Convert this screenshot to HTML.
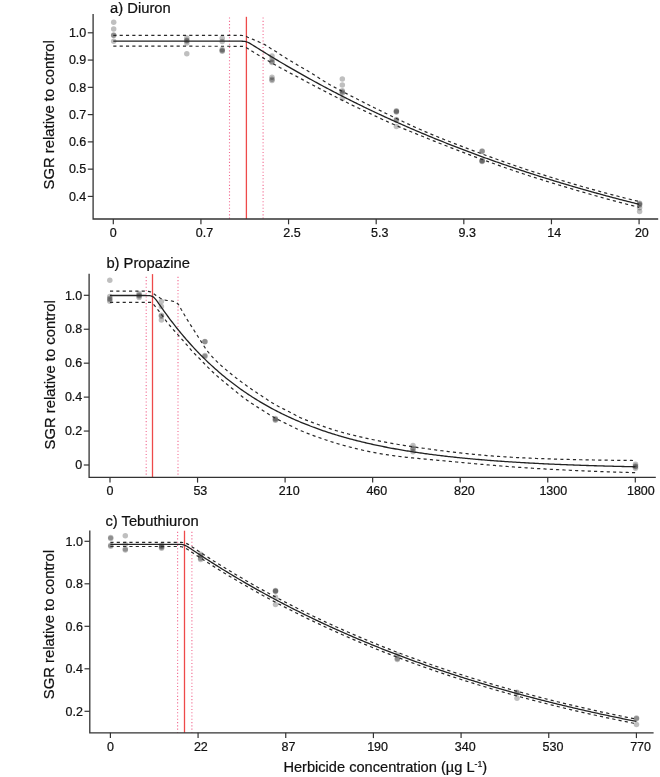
<!DOCTYPE html>
<html><head><meta charset="utf-8"><style>
html,body{margin:0;padding:0;background:#fff;}
svg{display:block;font-family:"Liberation Sans", sans-serif;will-change:transform;} text{stroke:#111;stroke-width:0.22px;}
</style></head><body>
<svg width="660" height="777" viewBox="0 0 660 777" fill="#111">
<rect width="660" height="777" fill="#fff"/>
<path d="M246.4,16.8V219.0" stroke="#ee4a4a" stroke-width="1.3"/>
<path d="M229.5,17.5V219.0" stroke="#f0507e" stroke-opacity="0.85" stroke-width="1.1" stroke-dasharray="1.1 2.18"/>
<path d="M263.1,17.5V219.0" stroke="#f0507e" stroke-opacity="0.85" stroke-width="1.1" stroke-dasharray="1.1 2.18"/>
<circle cx="113.7" cy="22.2" r="2.75" fill="#000" fill-opacity="0.25"/>
<circle cx="113.7" cy="29.1" r="2.75" fill="#000" fill-opacity="0.25"/>
<circle cx="113.7" cy="35.1" r="2.75" fill="#000" fill-opacity="0.25"/>
<circle cx="113.7" cy="35.5" r="2.75" fill="#000" fill-opacity="0.25"/>
<circle cx="113.7" cy="41.3" r="2.75" fill="#000" fill-opacity="0.25"/>
<circle cx="186.8" cy="38.0" r="2.75" fill="#000" fill-opacity="0.25"/>
<circle cx="186.8" cy="40.3" r="2.75" fill="#000" fill-opacity="0.25"/>
<circle cx="186.8" cy="41.0" r="2.75" fill="#000" fill-opacity="0.25"/>
<circle cx="186.8" cy="43.0" r="2.75" fill="#000" fill-opacity="0.25"/>
<circle cx="186.8" cy="53.7" r="2.75" fill="#000" fill-opacity="0.25"/>
<circle cx="222.2" cy="38.3" r="2.75" fill="#000" fill-opacity="0.25"/>
<circle cx="222.2" cy="41.5" r="2.75" fill="#000" fill-opacity="0.25"/>
<circle cx="222.2" cy="49.6" r="2.75" fill="#000" fill-opacity="0.25"/>
<circle cx="222.2" cy="50.6" r="2.75" fill="#000" fill-opacity="0.25"/>
<circle cx="222.2" cy="51.2" r="2.75" fill="#000" fill-opacity="0.25"/>
<circle cx="272.0" cy="56.0" r="2.75" fill="#000" fill-opacity="0.25"/>
<circle cx="272.0" cy="59.3" r="2.75" fill="#000" fill-opacity="0.25"/>
<circle cx="272.0" cy="61.6" r="2.75" fill="#000" fill-opacity="0.25"/>
<circle cx="272.0" cy="62.5" r="2.75" fill="#000" fill-opacity="0.25"/>
<circle cx="272.0" cy="77.3" r="2.75" fill="#000" fill-opacity="0.25"/>
<circle cx="272.0" cy="79.3" r="2.75" fill="#000" fill-opacity="0.25"/>
<circle cx="272.0" cy="80.4" r="2.75" fill="#000" fill-opacity="0.25"/>
<circle cx="342.3" cy="79.1" r="2.75" fill="#000" fill-opacity="0.25"/>
<circle cx="342.3" cy="85" r="2.75" fill="#000" fill-opacity="0.25"/>
<circle cx="342.3" cy="90.7" r="2.75" fill="#000" fill-opacity="0.25"/>
<circle cx="342.3" cy="92.0" r="2.75" fill="#000" fill-opacity="0.25"/>
<circle cx="342.3" cy="93.2" r="2.75" fill="#000" fill-opacity="0.25"/>
<circle cx="342.3" cy="98.6" r="2.75" fill="#000" fill-opacity="0.25"/>
<circle cx="396.4" cy="110.8" r="2.75" fill="#000" fill-opacity="0.25"/>
<circle cx="396.4" cy="111.4" r="2.75" fill="#000" fill-opacity="0.25"/>
<circle cx="396.4" cy="112.0" r="2.75" fill="#000" fill-opacity="0.25"/>
<circle cx="396.4" cy="119.4" r="2.75" fill="#000" fill-opacity="0.25"/>
<circle cx="396.4" cy="120.2" r="2.75" fill="#000" fill-opacity="0.25"/>
<circle cx="396.4" cy="126.4" r="2.75" fill="#000" fill-opacity="0.25"/>
<circle cx="482.1" cy="151.0" r="2.75" fill="#000" fill-opacity="0.25"/>
<circle cx="482.1" cy="151.4" r="2.75" fill="#000" fill-opacity="0.25"/>
<circle cx="482.1" cy="160.6" r="2.75" fill="#000" fill-opacity="0.25"/>
<circle cx="482.1" cy="161.0" r="2.75" fill="#000" fill-opacity="0.25"/>
<circle cx="482.1" cy="161.6" r="2.75" fill="#000" fill-opacity="0.25"/>
<circle cx="639.6" cy="203.3" r="2.75" fill="#000" fill-opacity="0.25"/>
<circle cx="639.6" cy="204.0" r="2.75" fill="#000" fill-opacity="0.25"/>
<circle cx="639.6" cy="205.0" r="2.75" fill="#000" fill-opacity="0.25"/>
<circle cx="639.6" cy="207.8" r="2.75" fill="#000" fill-opacity="0.25"/>
<circle cx="639.6" cy="211.6" r="2.75" fill="#000" fill-opacity="0.25"/>
<polyline points="113.30,41.17 114.62,41.17 115.94,41.17 117.25,41.17 118.57,41.17 119.89,41.17 121.21,41.17 122.52,41.17 123.84,41.17 125.16,41.17 126.48,41.17 127.80,41.17 129.11,41.17 130.43,41.17 131.75,41.17 133.07,41.17 134.38,41.17 135.70,41.17 137.02,41.17 138.34,41.17 139.66,41.17 140.97,41.17 142.29,41.17 143.61,41.17 144.93,41.17 146.24,41.17 147.56,41.17 148.88,41.17 150.20,41.17 151.52,41.17 152.83,41.17 154.15,41.17 155.47,41.17 156.79,41.17 158.11,41.17 159.42,41.17 160.74,41.17 162.06,41.17 163.38,41.17 164.69,41.17 166.01,41.17 167.33,41.17 168.65,41.17 169.97,41.17 171.28,41.17 172.60,41.17 173.92,41.17 175.24,41.17 176.55,41.17 177.87,41.17 179.19,41.17 180.51,41.17 181.83,41.17 183.14,41.17 184.46,41.17 185.78,41.17 187.10,41.17 188.41,41.17 189.73,41.17 191.05,41.17 192.37,41.17 193.69,41.17 195.00,41.17 196.32,41.17 197.64,41.17 198.96,41.17 200.27,41.17 201.59,41.17 202.91,41.17 204.23,41.17 205.55,41.17 206.86,41.17 208.18,41.17 209.50,41.17 210.82,41.17 212.13,41.17 213.45,41.17 214.77,41.17 216.09,41.17 217.41,41.17 218.72,41.17 220.04,41.17 221.36,41.17 222.68,41.17 223.99,41.17 225.31,41.17 226.63,41.17 227.95,41.17 229.27,41.17 230.58,41.17 231.90,41.17 233.22,41.17 234.54,41.17 235.85,41.17 237.17,41.17 238.49,41.17 239.81,41.18 241.13,41.19 242.44,41.23 243.76,41.31 245.08,41.47 246.40,41.78 247.72,42.26 249.03,42.91 250.35,43.65 251.67,44.45 252.99,45.26 254.30,46.09 255.62,46.92 256.94,47.75 258.26,48.57 259.58,49.40 260.89,50.22 262.21,51.04 263.53,51.85 264.85,52.66 266.16,53.48 267.48,54.28 268.80,55.09 270.12,55.89 271.44,56.69 272.75,57.49 274.07,58.29 275.39,59.08 276.71,59.87 278.02,60.66 279.34,61.44 280.66,62.22 281.98,63.00 283.30,63.78 284.61,64.56 285.93,65.33 287.25,66.10 288.57,66.87 289.88,67.63 291.20,68.40 292.52,69.16 293.84,69.92 295.16,70.67 296.47,71.42 297.79,72.18 299.11,72.92 300.43,73.67 301.74,74.41 303.06,75.16 304.38,75.89 305.70,76.63 307.02,77.37 308.33,78.10 309.65,78.83 310.97,79.55 312.29,80.28 313.60,81.00 314.92,81.72 316.24,82.44 317.56,83.16 318.88,83.87 320.19,84.58 321.51,85.29 322.83,86.00 324.15,86.70 325.46,87.40 326.78,88.10 328.10,88.80 329.42,89.50 330.74,90.19 332.05,90.88 333.37,91.57 334.69,92.26 336.01,92.94 337.33,93.62 338.64,94.30 339.96,94.98 341.28,95.66 342.60,96.33 343.91,97.00 345.23,97.67 346.55,98.34 347.87,99.00 349.19,99.67 350.50,100.33 351.82,100.99 353.14,101.64 354.46,102.30 355.77,102.95 357.09,103.60 358.41,104.25 359.73,104.90 361.05,105.54 362.36,106.18 363.68,106.82 365.00,107.46 366.32,108.10 367.63,108.73 368.95,109.36 370.27,109.99 371.59,110.62 372.91,111.25 374.22,111.87 375.54,112.49 376.86,113.11 378.18,113.73 379.49,114.35 380.81,114.96 382.13,115.57 383.45,116.18 384.77,116.79 386.08,117.40 387.40,118.00 388.72,118.61 390.04,119.21 391.35,119.81 392.67,120.40 393.99,121.00 395.31,121.59 396.63,122.18 397.94,122.77 399.26,123.36 400.58,123.94 401.90,124.53 403.21,125.11 404.53,125.69 405.85,126.27 407.17,126.84 408.49,127.42 409.80,127.99 411.12,128.56 412.44,129.13 413.76,129.70 415.07,130.26 416.39,130.82 417.71,131.39 419.03,131.95 420.35,132.50 421.66,133.06 422.98,133.61 424.30,134.17 425.62,134.72 426.94,135.27 428.25,135.81 429.57,136.36 430.89,136.90 432.21,137.45 433.52,137.99 434.84,138.53 436.16,139.06 437.48,139.60 438.80,140.13 440.11,140.66 441.43,141.19 442.75,141.72 444.07,142.25 445.38,142.77 446.70,143.30 448.02,143.82 449.34,144.34 450.66,144.86 451.97,145.38 453.29,145.89 454.61,146.40 455.93,146.92 457.24,147.43 458.56,147.94 459.88,148.44 461.20,148.95 462.52,149.45 463.83,149.95 465.15,150.46 466.47,150.95 467.79,151.45 469.10,151.95 470.42,152.44 471.74,152.93 473.06,153.43 474.38,153.92 475.69,154.40 477.01,154.89 478.33,155.37 479.65,155.86 480.96,156.34 482.28,156.82 483.60,157.30 484.92,157.78 486.24,158.25 487.55,158.73 488.87,159.20 490.19,159.67 491.51,160.14 492.82,160.61 494.14,161.08 495.46,161.54 496.78,162.00 498.10,162.47 499.41,162.93 500.73,163.39 502.05,163.84 503.37,164.30 504.68,164.76 506.00,165.21 507.32,165.66 508.64,166.11 509.96,166.56 511.27,167.01 512.59,167.46 513.91,167.90 515.23,168.34 516.55,168.79 517.86,169.23 519.18,169.67 520.50,170.10 521.82,170.54 523.13,170.97 524.45,171.41 525.77,171.84 527.09,172.27 528.41,172.70 529.72,173.13 531.04,173.56 532.36,173.98 533.68,174.41 534.99,174.83 536.31,175.25 537.63,175.67 538.95,176.09 540.27,176.51 541.58,176.92 542.90,177.34 544.22,177.75 545.54,178.16 546.85,178.57 548.17,178.98 549.49,179.39 550.81,179.80 552.13,180.20 553.44,180.61 554.76,181.01 556.08,181.41 557.40,181.81 558.71,182.21 560.03,182.61 561.35,183.01 562.67,183.40 563.99,183.80 565.30,184.19 566.62,184.58 567.94,184.97 569.26,185.36 570.57,185.75 571.89,186.13 573.21,186.52 574.53,186.90 575.85,187.29 577.16,187.67 578.48,188.05 579.80,188.43 581.12,188.81 582.43,189.18 583.75,189.56 585.07,189.93 586.39,190.31 587.71,190.68 589.02,191.05 590.34,191.42 591.66,191.79 592.98,192.15 594.29,192.52 595.61,192.89 596.93,193.25 598.25,193.61 599.57,193.97 600.88,194.33 602.20,194.69 603.52,195.05 604.84,195.41 606.16,195.76 607.47,196.12 608.79,196.47 610.11,196.83 611.43,197.18 612.74,197.53 614.06,197.88 615.38,198.22 616.70,198.57 618.02,198.92 619.33,199.26 620.65,199.60 621.97,199.95 623.29,200.29 624.60,200.63 625.92,200.97 627.24,201.31 628.56,201.64 629.88,201.98 631.19,202.31 632.51,202.65 633.83,202.98 635.15,203.31 636.46,203.64 637.78,203.97 639.10,204.30" fill="none" stroke="#222" stroke-width="1.3"/>
<polyline points="113.30,35.40 114.62,35.40 115.94,35.40 117.25,35.40 118.57,35.40 119.89,35.40 121.21,35.40 122.52,35.40 123.84,35.40 125.16,35.40 126.48,35.40 127.80,35.40 129.11,35.40 130.43,35.40 131.75,35.40 133.07,35.40 134.38,35.40 135.70,35.40 137.02,35.40 138.34,35.40 139.66,35.40 140.97,35.40 142.29,35.40 143.61,35.40 144.93,35.40 146.24,35.40 147.56,35.40 148.88,35.40 150.20,35.40 151.52,35.40 152.83,35.40 154.15,35.40 155.47,35.40 156.79,35.40 158.11,35.40 159.42,35.40 160.74,35.40 162.06,35.40 163.38,35.40 164.69,35.40 166.01,35.40 167.33,35.40 168.65,35.40 169.97,35.40 171.28,35.40 172.60,35.40 173.92,35.40 175.24,35.40 176.55,35.40 177.87,35.40 179.19,35.40 180.51,35.40 181.83,35.40 183.14,35.40 184.46,35.40 185.78,35.40 187.10,35.40 188.41,35.40 189.73,35.40 191.05,35.40 192.37,35.40 193.69,35.40 195.00,35.40 196.32,35.40 197.64,35.40 198.96,35.40 200.27,35.40 201.59,35.40 202.91,35.40 204.23,35.40 205.55,35.40 206.86,35.40 208.18,35.40 209.50,35.40 210.82,35.40 212.13,35.40 213.45,35.40 214.77,35.40 216.09,35.40 217.41,35.40 218.72,35.40 220.04,35.40 221.36,35.40 222.68,35.40 223.99,35.40 225.31,35.40 226.63,35.40 227.95,35.40 229.27,35.40 230.58,35.40 231.90,35.40 233.22,35.40 234.54,35.40 235.85,35.40 237.17,35.40 238.49,35.40 239.81,35.40 241.13,35.42 242.44,35.48 243.76,35.58 245.08,35.88 246.40,36.54 247.72,37.27 249.03,37.84 250.35,38.37 251.67,38.87 252.99,39.39 254.30,39.93 255.62,40.49 256.94,41.08 258.26,41.67 259.58,42.26 260.89,42.83 262.21,43.40 263.53,44.00 264.85,44.65 266.16,45.39 267.48,46.25 268.80,47.18 270.12,48.09 271.44,48.92 272.75,49.72 274.07,50.49 275.39,51.28 276.71,52.09 278.02,52.93 279.34,53.79 280.66,54.66 281.98,55.54 283.30,56.41 284.61,57.27 285.93,58.12 287.25,58.94 288.57,59.74 289.88,60.53 291.20,61.31 292.52,62.08 293.84,62.85 295.16,63.61 296.47,64.38 297.79,65.15 299.11,65.93 300.43,66.70 301.74,67.47 303.06,68.23 304.38,69.00 305.70,69.78 307.02,70.56 308.33,71.34 309.65,72.13 310.97,72.94 312.29,73.76 313.60,74.58 314.92,75.41 316.24,76.24 317.56,77.08 318.88,77.91 320.19,78.75 321.51,79.58 322.83,80.40 324.15,81.22 325.46,82.04 326.78,82.84 328.10,83.63 329.42,84.40 330.74,85.16 332.05,85.91 333.37,86.63 334.69,87.35 336.01,88.05 337.33,88.75 338.64,89.45 339.96,90.14 341.28,90.84 342.60,91.53 343.91,92.23 345.23,92.92 346.55,93.61 347.87,94.30 349.19,94.98 350.50,95.67 351.82,96.35 353.14,97.03 354.46,97.70 355.77,98.38 357.09,99.05 358.41,99.72 359.73,100.39 361.05,101.06 362.36,101.72 363.68,102.39 365.00,103.05 366.32,103.72 367.63,104.38 368.95,105.04 370.27,105.70 371.59,106.36 372.91,107.02 374.22,107.67 375.54,108.32 376.86,108.97 378.18,109.62 379.49,110.27 380.81,110.91 382.13,111.56 383.45,112.20 384.77,112.84 386.08,113.48 387.40,114.12 388.72,114.76 390.04,115.40 391.35,116.03 392.67,116.67 393.99,117.30 395.31,117.93 396.63,118.55 397.94,119.18 399.26,119.80 400.58,120.43 401.90,121.05 403.21,121.67 404.53,122.29 405.85,122.91 407.17,123.53 408.49,124.15 409.80,124.76 411.12,125.37 412.44,125.98 413.76,126.59 415.07,127.19 416.39,127.79 417.71,128.38 419.03,128.97 420.35,129.56 421.66,130.14 422.98,130.71 424.30,131.28 425.62,131.85 426.94,132.42 428.25,132.98 429.57,133.54 430.89,134.09 432.21,134.64 433.52,135.19 434.84,135.73 436.16,136.27 437.48,136.81 438.80,137.34 440.11,137.87 441.43,138.40 442.75,138.93 444.07,139.45 445.38,139.98 446.70,140.50 448.02,141.02 449.34,141.54 450.66,142.05 451.97,142.57 453.29,143.08 454.61,143.60 455.93,144.11 457.24,144.62 458.56,145.12 459.88,145.63 461.20,146.13 462.52,146.64 463.83,147.14 465.15,147.64 466.47,148.14 467.79,148.63 469.10,149.13 470.42,149.62 471.74,150.11 473.06,150.60 474.38,151.09 475.69,151.58 477.01,152.07 478.33,152.56 479.65,153.04 480.96,153.52 482.28,154.00 483.60,154.48 484.92,154.96 486.24,155.44 487.55,155.92 488.87,156.39 490.19,156.87 491.51,157.35 492.82,157.82 494.14,158.29 495.46,158.77 496.78,159.24 498.10,159.71 499.41,160.18 500.73,160.65 502.05,161.12 503.37,161.59 504.68,162.06 506.00,162.52 507.32,162.99 508.64,163.45 509.96,163.91 511.27,164.37 512.59,164.83 513.91,165.29 515.23,165.74 516.55,166.19 517.86,166.64 519.18,167.09 520.50,167.54 521.82,167.99 523.13,168.43 524.45,168.87 525.77,169.31 527.09,169.74 528.41,170.18 529.72,170.61 531.04,171.04 532.36,171.46 533.68,171.89 534.99,172.31 536.31,172.73 537.63,173.14 538.95,173.55 540.27,173.96 541.58,174.37 542.90,174.78 544.22,175.19 545.54,175.59 546.85,176.00 548.17,176.40 549.49,176.81 550.81,177.21 552.13,177.61 553.44,178.02 554.76,178.42 556.08,178.82 557.40,179.21 558.71,179.61 560.03,180.01 561.35,180.40 562.67,180.80 563.99,181.19 565.30,181.58 566.62,181.98 567.94,182.37 569.26,182.76 570.57,183.14 571.89,183.53 573.21,183.92 574.53,184.30 575.85,184.69 577.16,185.07 578.48,185.45 579.80,185.83 581.12,186.21 582.43,186.59 583.75,186.96 585.07,187.34 586.39,187.71 587.71,188.09 589.02,188.46 590.34,188.83 591.66,189.20 592.98,189.57 594.29,189.93 595.61,190.30 596.93,190.66 598.25,191.02 599.57,191.38 600.88,191.74 602.20,192.10 603.52,192.46 604.84,192.81 606.16,193.17 607.47,193.52 608.79,193.87 610.11,194.22 611.43,194.57 612.74,194.91 614.06,195.26 615.38,195.60 616.70,195.94 618.02,196.28 619.33,196.62 620.65,196.96 621.97,197.30 623.29,197.63 624.60,197.96 625.92,198.29 627.24,198.62 628.56,198.95 629.88,199.27 631.19,199.60 632.51,199.92 633.83,200.24 635.15,200.56 636.46,200.87 637.78,201.19 639.10,201.50" fill="none" stroke="#2a2a2a" stroke-width="1.2" stroke-dasharray="3.16 3.17"/>
<polyline points="113.30,46.20 114.62,46.20 115.94,46.20 117.25,46.20 118.57,46.20 119.89,46.20 121.21,46.20 122.52,46.20 123.84,46.20 125.16,46.20 126.48,46.20 127.80,46.20 129.11,46.20 130.43,46.20 131.75,46.20 133.07,46.20 134.38,46.20 135.70,46.20 137.02,46.20 138.34,46.20 139.66,46.20 140.97,46.20 142.29,46.20 143.61,46.20 144.93,46.20 146.24,46.20 147.56,46.20 148.88,46.20 150.20,46.20 151.52,46.20 152.83,46.20 154.15,46.20 155.47,46.20 156.79,46.20 158.11,46.20 159.42,46.21 160.74,46.21 162.06,46.21 163.38,46.21 164.69,46.21 166.01,46.21 167.33,46.21 168.65,46.21 169.97,46.21 171.28,46.21 172.60,46.21 173.92,46.21 175.24,46.21 176.55,46.21 177.87,46.21 179.19,46.21 180.51,46.22 181.83,46.22 183.14,46.22 184.46,46.22 185.78,46.22 187.10,46.22 188.41,46.22 189.73,46.22 191.05,46.22 192.37,46.22 193.69,46.23 195.00,46.23 196.32,46.23 197.64,46.23 198.96,46.23 200.27,46.23 201.59,46.23 202.91,46.23 204.23,46.24 205.55,46.24 206.86,46.24 208.18,46.24 209.50,46.24 210.82,46.24 212.13,46.25 213.45,46.25 214.77,46.25 216.09,46.25 217.41,46.25 218.72,46.26 220.04,46.26 221.36,46.26 222.68,46.26 223.99,46.26 225.31,46.27 226.63,46.27 227.95,46.27 229.27,46.27 230.58,46.28 231.90,46.28 233.22,46.28 234.54,46.28 235.85,46.29 237.17,46.29 238.49,46.29 239.81,46.30 241.13,46.30 242.44,46.32 243.76,46.59 245.08,47.01 246.40,47.71 247.72,48.51 249.03,49.30 250.35,50.15 251.67,51.02 252.99,51.87 254.30,52.68 255.62,53.48 256.94,54.27 258.26,55.06 259.58,55.84 260.89,56.61 262.21,57.38 263.53,58.14 264.85,58.90 266.16,59.66 267.48,60.43 268.80,61.19 270.12,61.95 271.44,62.71 272.75,63.47 274.07,64.22 275.39,64.96 276.71,65.71 278.02,66.45 279.34,67.18 280.66,67.92 281.98,68.65 283.30,69.37 284.61,70.09 285.93,70.81 287.25,71.52 288.57,72.22 289.88,72.91 291.20,73.60 292.52,74.29 293.84,74.98 295.16,75.66 296.47,76.35 297.79,77.05 299.11,77.75 300.43,78.45 301.74,79.15 303.06,79.85 304.38,80.56 305.70,81.26 307.02,81.96 308.33,82.66 309.65,83.35 310.97,84.05 312.29,84.75 313.60,85.44 314.92,86.13 316.24,86.83 317.56,87.52 318.88,88.21 320.19,88.90 321.51,89.59 322.83,90.28 324.15,90.96 325.46,91.65 326.78,92.33 328.10,93.01 329.42,93.69 330.74,94.37 332.05,95.04 333.37,95.71 334.69,96.38 336.01,97.04 337.33,97.71 338.64,98.37 339.96,99.03 341.28,99.69 342.60,100.35 343.91,101.01 345.23,101.67 346.55,102.33 347.87,102.99 349.19,103.65 350.50,104.30 351.82,104.95 353.14,105.59 354.46,106.22 355.77,106.84 357.09,107.46 358.41,108.06 359.73,108.67 361.05,109.27 362.36,109.87 363.68,110.48 365.00,111.09 366.32,111.72 367.63,112.34 368.95,112.97 370.27,113.61 371.59,114.25 372.91,114.88 374.22,115.52 375.54,116.15 376.86,116.78 378.18,117.41 379.49,118.03 380.81,118.65 382.13,119.25 383.45,119.85 384.77,120.45 386.08,121.05 387.40,121.64 388.72,122.23 390.04,122.82 391.35,123.40 392.67,123.98 393.99,124.56 395.31,125.14 396.63,125.71 397.94,126.28 399.26,126.85 400.58,127.42 401.90,127.98 403.21,128.54 404.53,129.09 405.85,129.65 407.17,130.19 408.49,130.74 409.80,131.28 411.12,131.81 412.44,132.34 413.76,132.87 415.07,133.39 416.39,133.92 417.71,134.44 419.03,134.97 420.35,135.49 421.66,136.02 422.98,136.55 424.30,137.08 425.62,137.62 426.94,138.16 428.25,138.70 429.57,139.24 430.89,139.78 432.21,140.32 433.52,140.85 434.84,141.38 436.16,141.90 437.48,142.43 438.80,142.95 440.11,143.46 441.43,143.98 442.75,144.50 444.07,145.02 445.38,145.53 446.70,146.05 448.02,146.56 449.34,147.07 450.66,147.58 451.97,148.10 453.29,148.61 454.61,149.11 455.93,149.62 457.24,150.13 458.56,150.63 459.88,151.14 461.20,151.64 462.52,152.14 463.83,152.65 465.15,153.15 466.47,153.64 467.79,154.14 469.10,154.64 470.42,155.13 471.74,155.62 473.06,156.12 474.38,156.61 475.69,157.09 477.01,157.58 478.33,158.07 479.65,158.55 480.96,159.03 482.28,159.52 483.60,160.00 484.92,160.47 486.24,160.95 487.55,161.42 488.87,161.90 490.19,162.37 491.51,162.84 492.82,163.31 494.14,163.78 495.46,164.25 496.78,164.72 498.10,165.18 499.41,165.65 500.73,166.11 502.05,166.58 503.37,167.04 504.68,167.50 506.00,167.96 507.32,168.42 508.64,168.87 509.96,169.33 511.27,169.78 512.59,170.24 513.91,170.69 515.23,171.14 516.55,171.58 517.86,172.03 519.18,172.47 520.50,172.91 521.82,173.35 523.13,173.79 524.45,174.23 525.77,174.66 527.09,175.09 528.41,175.52 529.72,175.95 531.04,176.37 532.36,176.79 533.68,177.21 534.99,177.63 536.31,178.05 537.63,178.46 538.95,178.87 540.27,179.28 541.58,179.69 542.90,180.10 544.22,180.51 545.54,180.92 546.85,181.33 548.17,181.74 549.49,182.14 550.81,182.55 552.13,182.95 553.44,183.36 554.76,183.76 556.08,184.16 557.40,184.56 558.71,184.96 560.03,185.36 561.35,185.76 562.67,186.16 563.99,186.56 565.30,186.95 566.62,187.35 567.94,187.74 569.26,188.13 570.57,188.53 571.89,188.92 573.21,189.31 574.53,189.70 575.85,190.09 577.16,190.47 578.48,190.86 579.80,191.24 581.12,191.63 582.43,192.01 583.75,192.39 585.07,192.77 586.39,193.15 587.71,193.53 589.02,193.91 590.34,194.29 591.66,194.66 592.98,195.04 594.29,195.41 595.61,195.78 596.93,196.15 598.25,196.52 599.57,196.89 600.88,197.26 602.20,197.62 603.52,197.98 604.84,198.35 606.16,198.71 607.47,199.07 608.79,199.43 610.11,199.79 611.43,200.14 612.74,200.50 614.06,200.85 615.38,201.20 616.70,201.56 618.02,201.91 619.33,202.25 620.65,202.60 621.97,202.95 623.29,203.29 624.60,203.63 625.92,203.97 627.24,204.31 628.56,204.65 629.88,204.99 631.19,205.32 632.51,205.66 633.83,205.99 635.15,206.32 636.46,206.65 637.78,206.97 639.10,207.30" fill="none" stroke="#2a2a2a" stroke-width="1.2" stroke-dasharray="3.16 3.17"/>
<path d="M93.1,14.1V219.0H658.2" fill="none" stroke="#333" stroke-width="1.3"/>
<path d="M87.80,32.80H93.1" stroke="#333" stroke-width="1.2"/>
<text x="86.30" y="37.05" text-anchor="end" font-size="12.5">1.0</text>
<path d="M87.80,60.07H93.1" stroke="#333" stroke-width="1.2"/>
<text x="86.30" y="64.32" text-anchor="end" font-size="12.5">0.9</text>
<path d="M87.80,87.34H93.1" stroke="#333" stroke-width="1.2"/>
<text x="86.30" y="91.59" text-anchor="end" font-size="12.5">0.8</text>
<path d="M87.80,114.61H93.1" stroke="#333" stroke-width="1.2"/>
<text x="86.30" y="118.86" text-anchor="end" font-size="12.5">0.7</text>
<path d="M87.80,141.88H93.1" stroke="#333" stroke-width="1.2"/>
<text x="86.30" y="146.13" text-anchor="end" font-size="12.5">0.6</text>
<path d="M87.80,169.15H93.1" stroke="#333" stroke-width="1.2"/>
<text x="86.30" y="173.40" text-anchor="end" font-size="12.5">0.5</text>
<path d="M87.80,196.42H93.1" stroke="#333" stroke-width="1.2"/>
<text x="86.30" y="200.67" text-anchor="end" font-size="12.5">0.4</text>
<path d="M113.30,219.0V224.30" stroke="#333" stroke-width="1.2"/>
<text x="109.82" y="237.00" font-size="12.5">0</text>
<path d="M200.93,219.0V224.30" stroke="#333" stroke-width="1.2"/>
<text x="195.72" y="237.00" font-size="12.5">0.7</text>
<path d="M288.56,219.0V224.30" stroke="#333" stroke-width="1.2"/>
<text x="283.35" y="237.00" font-size="12.5">2.5</text>
<path d="M376.19,219.0V224.30" stroke="#333" stroke-width="1.2"/>
<text x="370.98" y="237.00" font-size="12.5">5.3</text>
<path d="M463.82,219.0V224.30" stroke="#333" stroke-width="1.2"/>
<text x="458.61" y="237.00" font-size="12.5">9.3</text>
<path d="M551.45,219.0V224.30" stroke="#333" stroke-width="1.2"/>
<text x="547.28" y="237.00" font-size="12.5">14</text>
<path d="M639.08,219.0V224.30" stroke="#333" stroke-width="1.2"/>
<text x="634.91" y="237.00" font-size="12.5">20</text>
<text x="110.10" y="12.70" font-size="14.75">a) Diuron</text>
<text transform="translate(53.70,40.10) rotate(-90)" text-anchor="end" font-size="14.85">SGR relative to control</text>
<path d="M152.5,274.1V477.3" stroke="#ee4a4a" stroke-width="1.3"/>
<path d="M146.2,276.8V477.3" stroke="#f0507e" stroke-opacity="0.85" stroke-width="1.1" stroke-dasharray="1.1 2.18"/>
<path d="M178.0,276.8V477.3" stroke="#f0507e" stroke-opacity="0.85" stroke-width="1.1" stroke-dasharray="1.1 2.18"/>
<circle cx="109.8" cy="280.3" r="2.75" fill="#000" fill-opacity="0.25"/>
<circle cx="109.8" cy="296.5" r="2.75" fill="#000" fill-opacity="0.25"/>
<circle cx="109.8" cy="298.5" r="2.75" fill="#000" fill-opacity="0.25"/>
<circle cx="109.8" cy="299.5" r="2.75" fill="#000" fill-opacity="0.25"/>
<circle cx="109.8" cy="301.2" r="2.75" fill="#000" fill-opacity="0.25"/>
<circle cx="139.1" cy="293.5" r="2.75" fill="#000" fill-opacity="0.25"/>
<circle cx="139.1" cy="295.0" r="2.75" fill="#000" fill-opacity="0.25"/>
<circle cx="139.1" cy="296.0" r="2.75" fill="#000" fill-opacity="0.25"/>
<circle cx="139.1" cy="297.5" r="2.75" fill="#000" fill-opacity="0.25"/>
<circle cx="161.4" cy="301.4" r="2.75" fill="#000" fill-opacity="0.25"/>
<circle cx="161.4" cy="306.4" r="2.75" fill="#000" fill-opacity="0.25"/>
<circle cx="161.4" cy="315.3" r="2.75" fill="#000" fill-opacity="0.25"/>
<circle cx="161.4" cy="316.3" r="2.75" fill="#000" fill-opacity="0.25"/>
<circle cx="161.4" cy="320" r="2.75" fill="#000" fill-opacity="0.25"/>
<circle cx="204.9" cy="341.6" r="2.75" fill="#000" fill-opacity="0.25"/>
<circle cx="204.9" cy="341.8" r="2.75" fill="#000" fill-opacity="0.25"/>
<circle cx="204.9" cy="355.6" r="2.75" fill="#000" fill-opacity="0.25"/>
<circle cx="204.9" cy="356.4" r="2.75" fill="#000" fill-opacity="0.25"/>
<circle cx="275.4" cy="418.6" r="2.75" fill="#000" fill-opacity="0.25"/>
<circle cx="275.4" cy="419.4" r="2.75" fill="#000" fill-opacity="0.25"/>
<circle cx="275.4" cy="420.2" r="2.75" fill="#000" fill-opacity="0.25"/>
<circle cx="413.0" cy="445.5" r="2.75" fill="#000" fill-opacity="0.25"/>
<circle cx="413.0" cy="448.3" r="2.75" fill="#000" fill-opacity="0.25"/>
<circle cx="413.0" cy="449.2" r="2.75" fill="#000" fill-opacity="0.25"/>
<circle cx="413.0" cy="451.8" r="2.75" fill="#000" fill-opacity="0.25"/>
<circle cx="635.5" cy="464.3" r="2.75" fill="#000" fill-opacity="0.25"/>
<circle cx="635.5" cy="466.0" r="2.75" fill="#000" fill-opacity="0.25"/>
<circle cx="635.5" cy="466.8" r="2.75" fill="#000" fill-opacity="0.25"/>
<circle cx="635.5" cy="468.3" r="2.75" fill="#000" fill-opacity="0.25"/>
<polyline points="110.00,295.50 111.32,295.50 112.63,295.50 113.95,295.50 115.27,295.50 116.59,295.50 117.90,295.50 119.22,295.50 120.54,295.50 121.85,295.50 123.17,295.50 124.49,295.50 125.80,295.50 127.12,295.50 128.44,295.50 129.76,295.50 131.07,295.50 132.39,295.50 133.71,295.50 135.02,295.50 136.34,295.50 137.66,295.50 138.97,295.50 140.29,295.50 141.61,295.50 142.93,295.50 144.24,295.51 145.56,295.51 146.88,295.53 148.19,295.57 149.51,295.66 150.83,295.87 152.15,296.31 153.46,297.11 154.78,298.34 156.10,299.90 157.41,301.67 158.73,303.53 160.05,305.42 161.36,307.31 162.68,309.18 164.00,311.04 165.32,312.88 166.63,314.70 167.95,316.49 169.27,318.27 170.58,320.02 171.90,321.75 173.22,323.47 174.54,325.16 175.85,326.84 177.17,328.49 178.49,330.13 179.80,331.74 181.12,333.34 182.44,334.92 183.75,336.48 185.07,338.02 186.39,339.55 187.71,341.05 189.02,342.54 190.34,344.01 191.66,345.47 192.97,346.91 194.29,348.33 195.61,349.73 196.92,351.12 198.24,352.49 199.56,353.85 200.88,355.19 202.19,356.52 203.51,357.83 204.83,359.12 206.14,360.40 207.46,361.66 208.78,362.91 210.10,364.15 211.41,365.37 212.73,366.58 214.05,367.77 215.36,368.95 216.68,370.11 218.00,371.27 219.31,372.40 220.63,373.53 221.95,374.64 223.27,375.74 224.58,376.83 225.90,377.90 227.22,378.96 228.53,380.01 229.85,381.05 231.17,382.07 232.48,383.08 233.80,384.08 235.12,385.07 236.44,386.05 237.75,387.02 239.07,387.97 240.39,388.92 241.70,389.85 243.02,390.77 244.34,391.68 245.66,392.58 246.97,393.47 248.29,394.35 249.61,395.22 250.92,396.08 252.24,396.93 253.56,397.77 254.87,398.60 256.19,399.42 257.51,400.24 258.83,401.04 260.14,401.83 261.46,402.61 262.78,403.39 264.09,404.15 265.41,404.91 266.73,405.65 268.05,406.39 269.36,407.12 270.68,407.84 272.00,408.56 273.31,409.26 274.63,409.96 275.95,410.65 277.26,411.33 278.58,412.00 279.90,412.66 281.22,413.32 282.53,413.97 283.85,414.61 285.17,415.25 286.48,415.87 287.80,416.49 289.12,417.11 290.43,417.71 291.75,418.31 293.07,418.90 294.39,419.49 295.70,420.06 297.02,420.63 298.34,421.20 299.65,421.76 300.97,422.31 302.29,422.85 303.61,423.39 304.92,423.92 306.24,424.45 307.56,424.97 308.87,425.48 310.19,425.99 311.51,426.49 312.82,426.99 314.14,427.48 315.46,427.97 316.78,428.44 318.09,428.92 319.41,429.39 320.73,429.85 322.04,430.31 323.36,430.76 324.68,431.20 325.99,431.65 327.31,432.08 328.63,432.51 329.95,432.94 331.26,433.36 332.58,433.78 333.90,434.19 335.21,434.60 336.53,435.00 337.85,435.40 339.17,435.79 340.48,436.18 341.80,436.56 343.12,436.94 344.43,437.31 345.75,437.69 347.07,438.05 348.38,438.41 349.70,438.77 351.02,439.12 352.34,439.47 353.65,439.82 354.97,440.16 356.29,440.50 357.60,440.83 358.92,441.16 360.24,441.49 361.56,441.81 362.87,442.13 364.19,442.44 365.51,442.75 366.82,443.06 368.14,443.36 369.46,443.66 370.77,443.96 372.09,444.25 373.41,444.54 374.73,444.83 376.04,445.11 377.36,445.39 378.68,445.67 379.99,445.94 381.31,446.21 382.63,446.48 383.94,446.74 385.26,447.01 386.58,447.26 387.90,447.52 389.21,447.77 390.53,448.02 391.85,448.27 393.16,448.51 394.48,448.75 395.80,448.99 397.12,449.22 398.43,449.45 399.75,449.68 401.07,449.91 402.38,450.13 403.70,450.36 405.02,450.57 406.33,450.79 407.65,451.00 408.97,451.22 410.29,451.42 411.60,451.63 412.92,451.84 414.24,452.04 415.55,452.24 416.87,452.43 418.19,452.63 419.51,452.82 420.82,453.01 422.14,453.20 423.46,453.38 424.77,453.57 426.09,453.75 427.41,453.93 428.72,454.11 430.04,454.28 431.36,454.46 432.68,454.63 433.99,454.80 435.31,454.96 436.63,455.13 437.94,455.29 439.26,455.45 440.58,455.61 441.89,455.77 443.21,455.93 444.53,456.08 445.85,456.23 447.16,456.38 448.48,456.53 449.80,456.68 451.11,456.83 452.43,456.97 453.75,457.11 455.07,457.25 456.38,457.39 457.70,457.53 459.02,457.66 460.33,457.80 461.65,457.93 462.97,458.06 464.28,458.19 465.60,458.32 466.92,458.44 468.24,458.57 469.55,458.69 470.87,458.81 472.19,458.94 473.50,459.05 474.82,459.17 476.14,459.29 477.45,459.40 478.77,459.52 480.09,459.63 481.41,459.74 482.72,459.85 484.04,459.96 485.36,460.07 486.67,460.17 487.99,460.28 489.31,460.38 490.63,460.48 491.94,460.58 493.26,460.68 494.58,460.78 495.89,460.88 497.21,460.98 498.53,461.07 499.84,461.17 501.16,461.26 502.48,461.35 503.80,461.44 505.11,461.53 506.43,461.62 507.75,461.71 509.06,461.80 510.38,461.88 511.70,461.97 513.02,462.05 514.33,462.14 515.65,462.22 516.97,462.30 518.28,462.38 519.60,462.46 520.92,462.54 522.23,462.61 523.55,462.69 524.87,462.77 526.19,462.84 527.50,462.91 528.82,462.99 530.14,463.06 531.45,463.13 532.77,463.20 534.09,463.27 535.40,463.34 536.72,463.41 538.04,463.47 539.36,463.54 540.67,463.61 541.99,463.67 543.31,463.74 544.62,463.80 545.94,463.86 547.26,463.92 548.58,463.98 549.89,464.05 551.21,464.11 552.53,464.16 553.84,464.22 555.16,464.28 556.48,464.34 557.79,464.39 559.11,464.45 560.43,464.50 561.75,464.56 563.06,464.61 564.38,464.67 565.70,464.72 567.01,464.77 568.33,464.82 569.65,464.87 570.96,464.92 572.28,464.97 573.60,465.02 574.92,465.07 576.23,465.12 577.55,465.17 578.87,465.21 580.18,465.26 581.50,465.30 582.82,465.35 584.14,465.39 585.45,465.44 586.77,465.48 588.09,465.52 589.40,465.57 590.72,465.61 592.04,465.65 593.35,465.69 594.67,465.73 595.99,465.77 597.31,465.81 598.62,465.85 599.94,465.89 601.26,465.93 602.57,465.97 603.89,466.00 605.21,466.04 606.53,466.08 607.84,466.11 609.16,466.15 610.48,466.19 611.79,466.22 613.11,466.25 614.43,466.29 615.74,466.32 617.06,466.36 618.38,466.39 619.70,466.42 621.01,466.45 622.33,466.49 623.65,466.52 624.96,466.55 626.28,466.58 627.60,466.61 628.91,466.64 630.23,466.67 631.55,466.70 632.87,466.73 634.18,466.76 635.50,466.78" fill="none" stroke="#222" stroke-width="1.3"/>
<polyline points="110.00,291.20 111.32,291.20 112.63,291.20 113.95,291.20 115.27,291.20 116.59,291.20 117.90,291.20 119.22,291.20 120.54,291.20 121.85,291.20 123.17,291.20 124.49,291.20 125.80,291.20 127.12,291.20 128.44,291.20 129.76,291.20 131.07,291.20 132.39,291.20 133.71,291.20 135.02,291.20 136.34,291.20 137.66,291.20 138.97,291.20 140.29,291.20 141.61,291.20 142.93,291.20 144.24,291.20 145.56,291.20 146.88,291.20 148.19,291.31 149.51,291.61 150.83,292.02 152.15,292.73 153.46,293.61 154.78,294.49 156.10,295.45 157.41,296.39 158.73,297.23 160.05,298.07 161.36,298.82 162.68,299.39 164.00,299.79 165.32,300.10 166.63,300.34 167.95,300.52 169.27,300.66 170.58,300.81 171.90,301.02 173.22,301.31 174.54,301.72 175.85,302.32 177.17,303.25 178.49,304.55 179.80,306.67 181.12,309.21 182.44,311.57 183.75,313.80 185.07,316.02 186.39,318.23 187.71,320.40 189.02,322.52 190.34,324.60 191.66,326.64 192.97,328.69 194.29,330.74 195.61,332.81 196.92,334.89 198.24,336.97 199.56,339.04 200.88,341.11 202.19,343.24 203.51,345.38 204.83,347.44 206.14,349.35 207.46,351.10 208.78,352.75 210.10,354.34 211.41,355.85 212.73,357.31 214.05,358.71 215.36,360.07 216.68,361.38 218.00,362.65 219.31,363.89 220.63,365.09 221.95,366.27 223.27,367.42 224.58,368.55 225.90,369.66 227.22,370.76 228.53,371.85 229.85,372.93 231.17,374.01 232.48,375.07 233.80,376.12 235.12,377.15 236.44,378.17 237.75,379.17 239.07,380.17 240.39,381.15 241.70,382.13 243.02,383.10 244.34,384.06 245.66,385.01 246.97,385.96 248.29,386.90 249.61,387.83 250.92,388.75 252.24,389.66 253.56,390.57 254.87,391.47 256.19,392.36 257.51,393.25 258.83,394.13 260.14,395.00 261.46,395.87 262.78,396.74 264.09,397.60 265.41,398.47 266.73,399.32 268.05,400.17 269.36,401.01 270.68,401.84 272.00,402.65 273.31,403.45 274.63,404.23 275.95,404.98 277.26,405.72 278.58,406.43 279.90,407.12 281.22,407.81 282.53,408.47 283.85,409.14 285.17,409.80 286.48,410.45 287.80,411.11 289.12,411.78 290.43,412.46 291.75,413.15 293.07,413.87 294.39,414.59 295.70,415.32 297.02,416.03 298.34,416.70 299.65,417.34 300.97,417.93 302.29,418.51 303.61,419.06 304.92,419.59 306.24,420.12 307.56,420.63 308.87,421.12 310.19,421.61 311.51,422.09 312.82,422.57 314.14,423.04 315.46,423.52 316.78,423.99 318.09,424.46 319.41,424.94 320.73,425.41 322.04,425.89 323.36,426.36 324.68,426.83 325.99,427.29 327.31,427.75 328.63,428.20 329.95,428.65 331.26,429.08 332.58,429.51 333.90,429.93 335.21,430.34 336.53,430.74 337.85,431.13 339.17,431.51 340.48,431.88 341.80,432.24 343.12,432.60 344.43,432.96 345.75,433.30 347.07,433.64 348.38,433.98 349.70,434.31 351.02,434.64 352.34,434.97 353.65,435.29 354.97,435.61 356.29,435.93 357.60,436.24 358.92,436.55 360.24,436.86 361.56,437.16 362.87,437.46 364.19,437.76 365.51,438.05 366.82,438.34 368.14,438.63 369.46,438.91 370.77,439.19 372.09,439.47 373.41,439.75 374.73,440.02 376.04,440.30 377.36,440.57 378.68,440.84 379.99,441.11 381.31,441.37 382.63,441.63 383.94,441.89 385.26,442.15 386.58,442.40 387.90,442.65 389.21,442.89 390.53,443.13 391.85,443.37 393.16,443.60 394.48,443.83 395.80,444.06 397.12,444.28 398.43,444.50 399.75,444.72 401.07,444.93 402.38,445.14 403.70,445.35 405.02,445.56 406.33,445.77 407.65,445.98 408.97,446.18 410.29,446.38 411.60,446.58 412.92,446.78 414.24,446.98 415.55,447.17 416.87,447.36 418.19,447.55 419.51,447.73 420.82,447.91 422.14,448.10 423.46,448.28 424.77,448.46 426.09,448.64 427.41,448.83 428.72,449.01 430.04,449.19 431.36,449.37 432.68,449.54 433.99,449.72 435.31,449.90 436.63,450.07 437.94,450.25 439.26,450.42 440.58,450.59 441.89,450.76 443.21,450.93 444.53,451.09 445.85,451.26 447.16,451.42 448.48,451.58 449.80,451.74 451.11,451.90 452.43,452.05 453.75,452.20 455.07,452.35 456.38,452.50 457.70,452.64 459.02,452.79 460.33,452.93 461.65,453.08 462.97,453.22 464.28,453.36 465.60,453.50 466.92,453.64 468.24,453.78 469.55,453.92 470.87,454.06 472.19,454.19 473.50,454.32 474.82,454.46 476.14,454.59 477.45,454.71 478.77,454.84 480.09,454.96 481.41,455.08 482.72,455.20 484.04,455.32 485.36,455.43 486.67,455.54 487.99,455.64 489.31,455.75 490.63,455.85 491.94,455.95 493.26,456.04 494.58,456.13 495.89,456.22 497.21,456.31 498.53,456.40 499.84,456.49 501.16,456.58 502.48,456.67 503.80,456.75 505.11,456.84 506.43,456.92 507.75,457.00 509.06,457.08 510.38,457.16 511.70,457.24 513.02,457.32 514.33,457.40 515.65,457.47 516.97,457.54 518.28,457.62 519.60,457.69 520.92,457.76 522.23,457.83 523.55,457.89 524.87,457.96 526.19,458.02 527.50,458.08 528.82,458.15 530.14,458.21 531.45,458.26 532.77,458.32 534.09,458.37 535.40,458.43 536.72,458.48 538.04,458.53 539.36,458.58 540.67,458.62 541.99,458.67 543.31,458.71 544.62,458.76 545.94,458.80 547.26,458.85 548.58,458.89 549.89,458.93 551.21,458.97 552.53,459.01 553.84,459.05 555.16,459.09 556.48,459.13 557.79,459.17 559.11,459.21 560.43,459.25 561.75,459.28 563.06,459.32 564.38,459.35 565.70,459.39 567.01,459.42 568.33,459.46 569.65,459.49 570.96,459.52 572.28,459.55 573.60,459.59 574.92,459.62 576.23,459.65 577.55,459.68 578.87,459.70 580.18,459.73 581.50,459.76 582.82,459.79 584.14,459.81 585.45,459.84 586.77,459.86 588.09,459.89 589.40,459.91 590.72,459.94 592.04,459.96 593.35,459.98 594.67,460.00 595.99,460.02 597.31,460.05 598.62,460.07 599.94,460.09 601.26,460.11 602.57,460.13 603.89,460.15 605.21,460.17 606.53,460.19 607.84,460.20 609.16,460.22 610.48,460.24 611.79,460.26 613.11,460.28 614.43,460.29 615.74,460.31 617.06,460.33 618.38,460.34 619.70,460.36 621.01,460.37 622.33,460.39 623.65,460.40 624.96,460.41 626.28,460.43 627.60,460.44 628.91,460.45 630.23,460.46 631.55,460.47 632.87,460.48 634.18,460.49 635.50,460.50" fill="none" stroke="#2a2a2a" stroke-width="1.2" stroke-dasharray="3.16 3.17"/>
<polyline points="110.00,302.30 111.32,302.30 112.63,302.30 113.95,302.30 115.27,302.30 116.59,302.30 117.90,302.30 119.22,302.30 120.54,302.30 121.85,302.30 123.17,302.30 124.49,302.30 125.80,302.30 127.12,302.30 128.44,302.30 129.76,302.30 131.07,302.30 132.39,302.30 133.71,302.30 135.02,302.30 136.34,302.30 137.66,302.30 138.97,302.30 140.29,302.30 141.61,302.30 142.93,302.30 144.24,302.30 145.56,302.30 146.88,302.30 148.19,302.30 149.51,302.30 150.83,302.40 152.15,302.90 153.46,304.35 154.78,305.85 156.10,307.49 157.41,309.18 158.73,310.89 160.05,312.65 161.36,314.45 162.68,316.27 164.00,318.10 165.32,319.89 166.63,321.64 167.95,323.32 169.27,324.93 170.58,326.49 171.90,328.02 173.22,329.53 174.54,331.02 175.85,332.50 177.17,333.97 178.49,335.44 179.80,336.91 181.12,338.39 182.44,339.88 183.75,341.40 185.07,342.93 186.39,344.48 187.71,346.02 189.02,347.55 190.34,349.06 191.66,350.55 192.97,351.99 194.29,353.39 195.61,354.73 196.92,356.00 198.24,357.26 199.56,358.55 200.88,359.91 202.19,361.31 203.51,362.74 204.83,364.16 206.14,365.54 207.46,366.87 208.78,368.19 210.10,369.48 211.41,370.76 212.73,372.02 214.05,373.25 215.36,374.45 216.68,375.62 218.00,376.78 219.31,377.92 220.63,379.04 221.95,380.15 223.27,381.24 224.58,382.33 225.90,383.41 227.22,384.48 228.53,385.56 229.85,386.63 231.17,387.71 232.48,388.79 233.80,389.88 235.12,390.96 236.44,392.04 237.75,393.11 239.07,394.17 240.39,395.22 241.70,396.25 243.02,397.26 244.34,398.25 245.66,399.21 246.97,400.15 248.29,401.07 249.61,401.97 250.92,402.86 252.24,403.73 253.56,404.60 254.87,405.45 256.19,406.29 257.51,407.13 258.83,407.97 260.14,408.81 261.46,409.65 262.78,410.49 264.09,411.33 265.41,412.16 266.73,413.00 268.05,413.82 269.36,414.64 270.68,415.44 272.00,416.23 273.31,417.00 274.63,417.75 275.95,418.48 277.26,419.19 278.58,419.88 279.90,420.55 281.22,421.21 282.53,421.86 283.85,422.50 285.17,423.14 286.48,423.77 287.80,424.40 289.12,425.03 290.43,425.67 291.75,426.32 293.07,426.98 294.39,427.63 295.70,428.29 297.02,428.93 298.34,429.55 299.65,430.15 300.97,430.72 302.29,431.27 303.61,431.82 304.92,432.35 306.24,432.87 307.56,433.39 308.87,433.89 310.19,434.39 311.51,434.88 312.82,435.37 314.14,435.85 315.46,436.32 316.78,436.79 318.09,437.26 319.41,437.73 320.73,438.19 322.04,438.65 323.36,439.10 324.68,439.55 325.99,440.00 327.31,440.44 328.63,440.87 329.95,441.30 331.26,441.72 332.58,442.13 333.90,442.54 335.21,442.94 336.53,443.34 337.85,443.73 339.17,444.11 340.48,444.49 341.80,444.86 343.12,445.23 344.43,445.59 345.75,445.95 347.07,446.30 348.38,446.65 349.70,446.99 351.02,447.33 352.34,447.66 353.65,447.99 354.97,448.32 356.29,448.64 357.60,448.96 358.92,449.28 360.24,449.59 361.56,449.90 362.87,450.21 364.19,450.51 365.51,450.81 366.82,451.10 368.14,451.38 369.46,451.66 370.77,451.92 372.09,452.18 373.41,452.43 374.73,452.68 376.04,452.92 377.36,453.15 378.68,453.38 379.99,453.61 381.31,453.83 382.63,454.04 383.94,454.25 385.26,454.46 386.58,454.66 387.90,454.86 389.21,455.06 390.53,455.25 391.85,455.43 393.16,455.62 394.48,455.80 395.80,455.98 397.12,456.16 398.43,456.33 399.75,456.50 401.07,456.67 402.38,456.83 403.70,456.99 405.02,457.15 406.33,457.30 407.65,457.45 408.97,457.59 410.29,457.72 411.60,457.85 412.92,457.97 414.24,458.09 415.55,458.21 416.87,458.32 418.19,458.44 419.51,458.55 420.82,458.68 422.14,458.80 423.46,458.92 424.77,459.04 426.09,459.17 427.41,459.29 428.72,459.41 430.04,459.54 431.36,459.66 432.68,459.78 433.99,459.91 435.31,460.03 436.63,460.15 437.94,460.28 439.26,460.40 440.58,460.52 441.89,460.65 443.21,460.77 444.53,460.90 445.85,461.02 447.16,461.14 448.48,461.27 449.80,461.39 451.11,461.51 452.43,461.63 453.75,461.76 455.07,461.88 456.38,462.00 457.70,462.12 459.02,462.24 460.33,462.37 461.65,462.49 462.97,462.61 464.28,462.74 465.60,462.86 466.92,462.98 468.24,463.11 469.55,463.23 470.87,463.36 472.19,463.48 473.50,463.60 474.82,463.73 476.14,463.85 477.45,463.97 478.77,464.09 480.09,464.21 481.41,464.33 482.72,464.45 484.04,464.57 485.36,464.68 486.67,464.80 487.99,464.91 489.31,465.02 490.63,465.13 491.94,465.24 493.26,465.35 494.58,465.45 495.89,465.56 497.21,465.66 498.53,465.77 499.84,465.87 501.16,465.98 502.48,466.08 503.80,466.18 505.11,466.29 506.43,466.39 507.75,466.49 509.06,466.59 510.38,466.69 511.70,466.79 513.02,466.89 514.33,466.99 515.65,467.08 516.97,467.18 518.28,467.28 519.60,467.37 520.92,467.47 522.23,467.56 523.55,467.65 524.87,467.74 526.19,467.83 527.50,467.92 528.82,468.01 530.14,468.09 531.45,468.18 532.77,468.26 534.09,468.35 535.40,468.43 536.72,468.51 538.04,468.59 539.36,468.66 540.67,468.74 541.99,468.81 543.31,468.89 544.62,468.96 545.94,469.03 547.26,469.11 548.58,469.18 549.89,469.25 551.21,469.32 552.53,469.39 553.84,469.46 555.16,469.53 556.48,469.59 557.79,469.66 559.11,469.73 560.43,469.79 561.75,469.86 563.06,469.92 564.38,469.99 565.70,470.05 567.01,470.11 568.33,470.17 569.65,470.24 570.96,470.30 572.28,470.36 573.60,470.42 574.92,470.48 576.23,470.54 577.55,470.59 578.87,470.65 580.18,470.71 581.50,470.77 582.82,470.82 584.14,470.88 585.45,470.93 586.77,470.99 588.09,471.04 589.40,471.10 590.72,471.15 592.04,471.20 593.35,471.25 594.67,471.31 595.99,471.36 597.31,471.41 598.62,471.46 599.94,471.51 601.26,471.56 602.57,471.61 603.89,471.66 605.21,471.71 606.53,471.76 607.84,471.81 609.16,471.85 610.48,471.90 611.79,471.95 613.11,471.99 614.43,472.04 615.74,472.08 617.06,472.13 618.38,472.17 619.70,472.22 621.01,472.26 622.33,472.30 623.65,472.34 624.96,472.38 626.28,472.43 627.60,472.47 628.91,472.51 630.23,472.55 631.55,472.59 632.87,472.62 634.18,472.66 635.50,472.70" fill="none" stroke="#2a2a2a" stroke-width="1.2" stroke-dasharray="3.16 3.17"/>
<path d="M89.1,273.8V477.3H655.8" fill="none" stroke="#333" stroke-width="1.3"/>
<path d="M83.80,295.30H89.1" stroke="#333" stroke-width="1.2"/>
<text x="82.30" y="299.55" text-anchor="end" font-size="12.5">1.0</text>
<path d="M83.80,329.24H89.1" stroke="#333" stroke-width="1.2"/>
<text x="82.30" y="333.49" text-anchor="end" font-size="12.5">0.8</text>
<path d="M83.80,363.18H89.1" stroke="#333" stroke-width="1.2"/>
<text x="82.30" y="367.43" text-anchor="end" font-size="12.5">0.6</text>
<path d="M83.80,397.12H89.1" stroke="#333" stroke-width="1.2"/>
<text x="82.30" y="401.37" text-anchor="end" font-size="12.5">0.4</text>
<path d="M83.80,431.06H89.1" stroke="#333" stroke-width="1.2"/>
<text x="82.30" y="435.31" text-anchor="end" font-size="12.5">0.2</text>
<path d="M83.80,465.00H89.1" stroke="#333" stroke-width="1.2"/>
<text x="82.30" y="469.25" text-anchor="end" font-size="12.5">0</text>
<path d="M110.00,477.3V482.60" stroke="#333" stroke-width="1.2"/>
<text x="106.52" y="495.30" font-size="12.5">0</text>
<path d="M197.55,477.3V482.60" stroke="#333" stroke-width="1.2"/>
<text x="193.38" y="495.30" font-size="12.5">53</text>
<path d="M285.10,477.3V482.60" stroke="#333" stroke-width="1.2"/>
<text x="278.84" y="495.30" font-size="12.5">210</text>
<path d="M372.65,477.3V482.60" stroke="#333" stroke-width="1.2"/>
<text x="366.39" y="495.30" font-size="12.5">460</text>
<path d="M460.20,477.3V482.60" stroke="#333" stroke-width="1.2"/>
<text x="453.94" y="495.30" font-size="12.5">820</text>
<path d="M547.75,477.3V482.60" stroke="#333" stroke-width="1.2"/>
<text x="539.41" y="495.30" font-size="12.5">1300</text>
<path d="M635.30,477.3V482.60" stroke="#333" stroke-width="1.2"/>
<text x="626.96" y="495.30" font-size="12.5">1800</text>
<text x="106.40" y="267.70" font-size="14.75">b) Propazine</text>
<text transform="translate(54.90,300.10) rotate(-90)" text-anchor="end" font-size="14.85">SGR relative to control</text>
<path d="M184.5,530.7V732.8" stroke="#ee4a4a" stroke-width="1.3"/>
<path d="M177.6,531.8V732.8" stroke="#f0507e" stroke-opacity="0.85" stroke-width="1.1" stroke-dasharray="1.1 2.18"/>
<path d="M191.9,531.8V732.8" stroke="#f0507e" stroke-opacity="0.85" stroke-width="1.1" stroke-dasharray="1.1 2.18"/>
<circle cx="110.7" cy="537.6" r="2.75" fill="#000" fill-opacity="0.25"/>
<circle cx="110.7" cy="538.4" r="2.75" fill="#000" fill-opacity="0.25"/>
<circle cx="110.7" cy="545.2" r="2.75" fill="#000" fill-opacity="0.25"/>
<circle cx="110.7" cy="546.2" r="2.75" fill="#000" fill-opacity="0.25"/>
<circle cx="125.3" cy="535.7" r="2.75" fill="#000" fill-opacity="0.25"/>
<circle cx="125.3" cy="544.3" r="2.75" fill="#000" fill-opacity="0.25"/>
<circle cx="125.3" cy="549.0" r="2.75" fill="#000" fill-opacity="0.25"/>
<circle cx="125.3" cy="550" r="2.75" fill="#000" fill-opacity="0.25"/>
<circle cx="161.6" cy="545.0" r="2.75" fill="#000" fill-opacity="0.25"/>
<circle cx="161.6" cy="546.3" r="2.75" fill="#000" fill-opacity="0.25"/>
<circle cx="161.6" cy="547.2" r="2.75" fill="#000" fill-opacity="0.25"/>
<circle cx="161.6" cy="548.2" r="2.75" fill="#000" fill-opacity="0.25"/>
<circle cx="200.6" cy="554.3" r="2.75" fill="#000" fill-opacity="0.25"/>
<circle cx="200.6" cy="555.6" r="2.75" fill="#000" fill-opacity="0.25"/>
<circle cx="200.6" cy="558.2" r="2.75" fill="#000" fill-opacity="0.25"/>
<circle cx="200.6" cy="559.4" r="2.75" fill="#000" fill-opacity="0.25"/>
<circle cx="275.5" cy="590.6" r="2.75" fill="#000" fill-opacity="0.25"/>
<circle cx="275.5" cy="591.0" r="2.75" fill="#000" fill-opacity="0.25"/>
<circle cx="275.5" cy="591.4" r="2.75" fill="#000" fill-opacity="0.25"/>
<circle cx="275.5" cy="597.3" r="2.75" fill="#000" fill-opacity="0.25"/>
<circle cx="275.5" cy="604.4" r="2.75" fill="#000" fill-opacity="0.25"/>
<circle cx="397.3" cy="655" r="2.75" fill="#000" fill-opacity="0.25"/>
<circle cx="397.3" cy="658.5" r="2.75" fill="#000" fill-opacity="0.25"/>
<circle cx="397.3" cy="659.5" r="2.75" fill="#000" fill-opacity="0.25"/>
<circle cx="517" cy="692.2" r="2.75" fill="#000" fill-opacity="0.25"/>
<circle cx="517" cy="693" r="2.75" fill="#000" fill-opacity="0.25"/>
<circle cx="517" cy="698.2" r="2.75" fill="#000" fill-opacity="0.25"/>
<circle cx="636.5" cy="718" r="2.75" fill="#000" fill-opacity="0.25"/>
<circle cx="636.5" cy="718.8" r="2.75" fill="#000" fill-opacity="0.25"/>
<circle cx="636.5" cy="724.4" r="2.75" fill="#000" fill-opacity="0.25"/>
<polyline points="110.40,544.30 111.72,544.30 113.04,544.30 114.35,544.30 115.67,544.30 116.99,544.30 118.31,544.30 119.63,544.30 120.95,544.30 122.26,544.30 123.58,544.30 124.90,544.30 126.22,544.30 127.54,544.30 128.86,544.30 130.17,544.30 131.49,544.30 132.81,544.30 134.13,544.30 135.45,544.30 136.77,544.30 138.08,544.30 139.40,544.30 140.72,544.30 142.04,544.30 143.36,544.30 144.68,544.30 145.99,544.30 147.31,544.30 148.63,544.30 149.95,544.30 151.27,544.30 152.59,544.30 153.90,544.30 155.22,544.30 156.54,544.30 157.86,544.30 159.18,544.30 160.50,544.30 161.81,544.30 163.13,544.30 164.45,544.30 165.77,544.30 167.09,544.30 168.41,544.30 169.72,544.30 171.04,544.30 172.36,544.30 173.68,544.30 175.00,544.30 176.31,544.31 177.63,544.31 178.95,544.33 180.27,544.37 181.59,544.47 182.91,544.66 184.22,545.02 185.54,545.57 186.86,546.28 188.18,547.08 189.50,547.93 190.82,548.81 192.13,549.68 193.45,550.56 194.77,551.44 196.09,552.32 197.41,553.19 198.73,554.06 200.04,554.93 201.36,555.79 202.68,556.65 204.00,557.51 205.32,558.36 206.64,559.21 207.95,560.06 209.27,560.90 210.59,561.74 211.91,562.58 213.23,563.42 214.55,564.25 215.86,565.08 217.18,565.91 218.50,566.73 219.82,567.55 221.14,568.37 222.46,569.18 223.77,569.99 225.09,570.80 226.41,571.61 227.73,572.41 229.05,573.21 230.36,574.01 231.68,574.80 233.00,575.59 234.32,576.38 235.64,577.17 236.96,577.95 238.27,578.73 239.59,579.51 240.91,580.28 242.23,581.05 243.55,581.82 244.87,582.59 246.18,583.35 247.50,584.11 248.82,584.87 250.14,585.62 251.46,586.37 252.78,587.12 254.09,587.87 255.41,588.61 256.73,589.35 258.05,590.09 259.37,590.83 260.69,591.56 262.00,592.29 263.32,593.02 264.64,593.74 265.96,594.47 267.28,595.19 268.60,595.90 269.91,596.62 271.23,597.33 272.55,598.04 273.87,598.75 275.19,599.45 276.51,600.15 277.82,600.85 279.14,601.55 280.46,602.24 281.78,602.93 283.10,603.62 284.42,604.31 285.73,604.99 287.05,605.68 288.37,606.36 289.69,607.03 291.01,607.71 292.32,608.38 293.64,609.05 294.96,609.71 296.28,610.38 297.60,611.04 298.92,611.70 300.23,612.36 301.55,613.01 302.87,613.67 304.19,614.32 305.51,614.96 306.83,615.61 308.14,616.25 309.46,616.89 310.78,617.53 312.10,618.17 313.42,618.80 314.74,619.43 316.05,620.06 317.37,620.69 318.69,621.31 320.01,621.94 321.33,622.56 322.65,623.17 323.96,623.79 325.28,624.40 326.60,625.01 327.92,625.62 329.24,626.23 330.56,626.83 331.87,627.44 333.19,628.04 334.51,628.64 335.83,629.23 337.15,629.82 338.47,630.42 339.78,631.01 341.10,631.59 342.42,632.18 343.74,632.76 345.06,633.34 346.37,633.92 347.69,634.50 349.01,635.07 350.33,635.64 351.65,636.21 352.97,636.78 354.28,637.35 355.60,637.91 356.92,638.48 358.24,639.04 359.56,639.59 360.88,640.15 362.19,640.70 363.51,641.26 364.83,641.81 366.15,642.35 367.47,642.90 368.79,643.44 370.10,643.99 371.42,644.53 372.74,645.06 374.06,645.60 375.38,646.14 376.70,646.67 378.01,647.20 379.33,647.73 380.65,648.25 381.97,648.78 383.29,649.30 384.61,649.82 385.92,650.34 387.24,650.86 388.56,651.37 389.88,651.89 391.20,652.40 392.52,652.91 393.83,653.41 395.15,653.92 396.47,654.42 397.79,654.93 399.11,655.43 400.43,655.93 401.74,656.42 403.06,656.92 404.38,657.41 405.70,657.90 407.02,658.39 408.33,658.88 409.65,659.37 410.97,659.85 412.29,660.33 413.61,660.81 414.93,661.29 416.24,661.77 417.56,662.25 418.88,662.72 420.20,663.19 421.52,663.66 422.84,664.13 424.15,664.60 425.47,665.06 426.79,665.53 428.11,665.99 429.43,666.45 430.75,666.91 432.06,667.36 433.38,667.82 434.70,668.27 436.02,668.73 437.34,669.18 438.66,669.62 439.97,670.07 441.29,670.52 442.61,670.96 443.93,671.40 445.25,671.84 446.57,672.28 447.88,672.72 449.20,673.16 450.52,673.59 451.84,674.02 453.16,674.45 454.48,674.88 455.79,675.31 457.11,675.74 458.43,676.16 459.75,676.59 461.07,677.01 462.38,677.43 463.70,677.85 465.02,678.27 466.34,678.68 467.66,679.10 468.98,679.51 470.29,679.92 471.61,680.33 472.93,680.74 474.25,681.14 475.57,681.55 476.89,681.95 478.20,682.36 479.52,682.76 480.84,683.16 482.16,683.55 483.48,683.95 484.80,684.35 486.11,684.74 487.43,685.13 488.75,685.52 490.07,685.91 491.39,686.30 492.71,686.69 494.02,687.07 495.34,687.45 496.66,687.84 497.98,688.22 499.30,688.60 500.62,688.98 501.93,689.35 503.25,689.73 504.57,690.10 505.89,690.48 507.21,690.85 508.53,691.22 509.84,691.59 511.16,691.95 512.48,692.32 513.80,692.68 515.12,693.05 516.44,693.41 517.75,693.77 519.07,694.13 520.39,694.49 521.71,694.84 523.03,695.20 524.34,695.55 525.66,695.91 526.98,696.26 528.30,696.61 529.62,696.96 530.94,697.31 532.25,697.65 533.57,698.00 534.89,698.34 536.21,698.69 537.53,699.03 538.85,699.37 540.16,699.71 541.48,700.04 542.80,700.38 544.12,700.72 545.44,701.05 546.76,701.38 548.07,701.72 549.39,702.05 550.71,702.38 552.03,702.70 553.35,703.03 554.67,703.36 555.98,703.68 557.30,704.01 558.62,704.33 559.94,704.65 561.26,704.97 562.58,705.29 563.89,705.61 565.21,705.92 566.53,706.24 567.85,706.55 569.17,706.86 570.49,707.18 571.80,707.49 573.12,707.80 574.44,708.11 575.76,708.41 577.08,708.72 578.39,709.03 579.71,709.33 581.03,709.63 582.35,709.93 583.67,710.23 584.99,710.53 586.30,710.83 587.62,711.13 588.94,711.43 590.26,711.72 591.58,712.02 592.90,712.31 594.21,712.60 595.53,712.89 596.85,713.18 598.17,713.47 599.49,713.76 600.81,714.05 602.12,714.33 603.44,714.62 604.76,714.90 606.08,715.18 607.40,715.47 608.72,715.75 610.03,716.03 611.35,716.31 612.67,716.58 613.99,716.86 615.31,717.14 616.63,717.41 617.94,717.68 619.26,717.96 620.58,718.23 621.90,718.50 623.22,718.77 624.54,719.04 625.85,719.31 627.17,719.57 628.49,719.84 629.81,720.10 631.13,720.37 632.45,720.63 633.76,720.89 635.08,721.15 636.40,721.41" fill="none" stroke="#222" stroke-width="1.3"/>
<polyline points="110.40,542.30 111.72,542.30 113.04,542.30 114.35,542.30 115.67,542.30 116.99,542.30 118.31,542.30 119.63,542.30 120.95,542.30 122.26,542.30 123.58,542.30 124.90,542.30 126.22,542.30 127.54,542.30 128.86,542.30 130.17,542.30 131.49,542.30 132.81,542.30 134.13,542.30 135.45,542.30 136.77,542.30 138.08,542.30 139.40,542.30 140.72,542.30 142.04,542.30 143.36,542.30 144.68,542.30 145.99,542.30 147.31,542.30 148.63,542.30 149.95,542.30 151.27,542.30 152.59,542.30 153.90,542.30 155.22,542.30 156.54,542.30 157.86,542.30 159.18,542.30 160.50,542.30 161.81,542.30 163.13,542.30 164.45,542.30 165.77,542.30 167.09,542.30 168.41,542.30 169.72,542.30 171.04,542.30 172.36,542.30 173.68,542.30 175.00,542.30 176.31,542.30 177.63,542.31 178.95,542.31 180.27,542.33 181.59,542.38 182.91,542.48 184.22,542.69 185.54,543.06 186.86,543.63 188.18,544.35 189.50,545.16 190.82,546.01 192.13,546.88 193.45,547.76 194.77,548.64 196.09,549.52 197.41,550.40 198.73,551.27 200.04,552.14 201.36,553.00 202.68,553.87 204.00,554.73 205.32,555.58 206.64,556.44 207.95,557.29 209.27,558.13 210.59,558.98 211.91,559.82 213.23,560.66 214.55,561.49 215.86,562.33 217.18,563.16 218.50,563.98 219.82,564.80 221.14,565.62 222.46,566.44 223.77,567.26 225.09,568.07 226.41,568.88 227.73,569.68 229.05,570.48 230.36,571.28 231.68,572.08 233.00,572.87 234.32,573.67 235.64,574.45 236.96,575.24 238.27,576.02 239.59,576.80 240.91,577.58 242.23,578.35 243.55,579.12 244.87,579.89 246.18,580.66 247.50,581.42 248.82,582.18 250.14,582.94 251.46,583.69 252.78,584.44 254.09,585.19 255.41,585.94 256.73,586.68 258.05,587.42 259.37,588.16 260.69,588.89 262.00,589.63 263.32,590.36 264.64,591.08 265.96,591.81 267.28,592.53 268.60,593.25 269.91,593.97 271.23,594.68 272.55,595.39 273.87,596.10 275.19,596.81 276.51,597.51 277.82,598.22 279.14,598.92 280.46,599.61 281.78,600.31 283.10,601.00 284.42,601.69 285.73,602.37 287.05,603.06 288.37,603.74 289.69,604.42 291.01,605.09 292.32,605.77 293.64,606.44 294.96,607.11 296.28,607.77 297.60,608.44 298.92,609.10 300.23,609.76 301.55,610.42 302.87,611.07 304.19,611.72 305.51,612.37 306.83,613.02 308.14,613.67 309.46,614.31 310.78,614.95 312.10,615.59 313.42,616.22 314.74,616.86 316.05,617.49 317.37,618.12 318.69,618.75 320.01,619.37 321.33,619.99 322.65,620.61 323.96,621.23 325.28,621.84 326.60,622.46 327.92,623.07 329.24,623.68 330.56,624.28 331.87,624.89 333.19,625.49 334.51,626.09 335.83,626.69 337.15,627.28 338.47,627.88 339.78,628.47 341.10,629.06 342.42,629.65 343.74,630.23 345.06,630.81 346.37,631.39 347.69,631.97 349.01,632.55 350.33,633.12 351.65,633.70 352.97,634.27 354.28,634.83 355.60,635.40 356.92,635.96 358.24,636.53 359.56,637.09 360.88,637.64 362.19,638.20 363.51,638.75 364.83,639.31 366.15,639.86 367.47,640.40 368.79,640.95 370.10,641.49 371.42,642.04 372.74,642.58 374.06,643.11 375.38,643.65 376.70,644.18 378.01,644.72 379.33,645.25 380.65,645.77 381.97,646.30 383.29,646.82 384.61,647.35 385.92,647.87 387.24,648.39 388.56,648.90 389.88,649.42 391.20,649.93 392.52,650.44 393.83,650.95 395.15,651.46 396.47,651.97 397.79,652.47 399.11,652.97 400.43,653.47 401.74,653.97 403.06,654.47 404.38,654.96 405.70,655.46 407.02,655.95 408.33,656.44 409.65,656.92 410.97,657.41 412.29,657.89 413.61,658.38 414.93,658.86 416.24,659.34 417.56,659.81 418.88,660.29 420.20,660.76 421.52,661.23 422.84,661.70 424.15,662.17 425.47,662.64 426.79,663.10 428.11,663.57 429.43,664.03 430.75,664.49 432.06,664.95 433.38,665.41 434.70,665.86 436.02,666.31 437.34,666.77 438.66,667.22 439.97,667.66 441.29,668.11 442.61,668.56 443.93,669.00 445.25,669.44 446.57,669.88 447.88,670.32 449.20,670.76 450.52,671.20 451.84,671.63 453.16,672.06 454.48,672.49 455.79,672.92 457.11,673.35 458.43,673.78 459.75,674.20 461.07,674.62 462.38,675.05 463.70,675.47 465.02,675.89 466.34,676.30 467.66,676.72 468.98,677.13 470.29,677.54 471.61,677.96 472.93,678.37 474.25,678.77 475.57,679.18 476.89,679.59 478.20,679.99 479.52,680.39 480.84,680.79 482.16,681.19 483.48,681.59 484.80,681.99 486.11,682.38 487.43,682.77 488.75,683.17 490.07,683.56 491.39,683.95 492.71,684.33 494.02,684.72 495.34,685.11 496.66,685.49 497.98,685.87 499.30,686.25 500.62,686.63 501.93,687.01 503.25,687.39 504.57,687.76 505.89,688.14 507.21,688.51 508.53,688.88 509.84,689.25 511.16,689.62 512.48,689.99 513.80,690.35 515.12,690.72 516.44,691.08 517.75,691.44 519.07,691.80 520.39,692.16 521.71,692.52 523.03,692.88 524.34,693.23 525.66,693.59 526.98,693.94 528.30,694.29 529.62,694.64 530.94,694.99 532.25,695.34 533.57,695.68 534.89,696.03 536.21,696.37 537.53,696.72 538.85,697.06 540.16,697.40 541.48,697.74 542.80,698.08 544.12,698.41 545.44,698.75 546.76,699.08 548.07,699.41 549.39,699.75 550.71,700.08 552.03,700.41 553.35,700.73 554.67,701.06 555.98,701.39 557.30,701.71 558.62,702.03 559.94,702.36 561.26,702.68 562.58,703.00 563.89,703.32 565.21,703.63 566.53,703.95 567.85,704.27 569.17,704.58 570.49,704.89 571.80,705.20 573.12,705.52 574.44,705.83 575.76,706.13 577.08,706.44 578.39,706.75 579.71,707.05 581.03,707.36 582.35,707.66 583.67,707.96 584.99,708.26 586.30,708.56 587.62,708.86 588.94,709.16 590.26,709.45 591.58,709.75 592.90,710.04 594.21,710.34 595.53,710.63 596.85,710.92 598.17,711.21 599.49,711.50 600.81,711.79 602.12,712.07 603.44,712.36 604.76,712.64 606.08,712.93 607.40,713.21 608.72,713.49 610.03,713.77 611.35,714.05 612.67,714.33 613.99,714.61 615.31,714.89 616.63,715.16 617.94,715.44 619.26,715.71 620.58,715.98 621.90,716.25 623.22,716.52 624.54,716.79 625.85,717.06 627.17,717.33 628.49,717.60 629.81,717.86 631.13,718.13 632.45,718.39 633.76,718.65 635.08,718.92 636.40,719.18" fill="none" stroke="#2a2a2a" stroke-width="1.2" stroke-dasharray="3.16 3.17"/>
<polyline points="110.40,546.50 111.72,546.50 113.04,546.50 114.35,546.50 115.67,546.50 116.99,546.50 118.31,546.50 119.63,546.50 120.95,546.50 122.26,546.50 123.58,546.50 124.90,546.50 126.22,546.50 127.54,546.50 128.86,546.50 130.17,546.50 131.49,546.50 132.81,546.50 134.13,546.50 135.45,546.50 136.77,546.50 138.08,546.50 139.40,546.50 140.72,546.50 142.04,546.50 143.36,546.50 144.68,546.50 145.99,546.50 147.31,546.50 148.63,546.50 149.95,546.50 151.27,546.50 152.59,546.50 153.90,546.50 155.22,546.50 156.54,546.50 157.86,546.50 159.18,546.50 160.50,546.50 161.81,546.50 163.13,546.50 164.45,546.50 165.77,546.50 167.09,546.50 168.41,546.50 169.72,546.50 171.04,546.50 172.36,546.50 173.68,546.50 175.00,546.50 176.31,546.51 177.63,546.52 178.95,546.55 180.27,546.62 181.59,546.77 182.91,547.06 184.22,547.53 185.54,548.18 186.86,548.96 188.18,549.80 189.50,550.66 190.82,551.54 192.13,552.42 193.45,553.30 194.77,554.17 196.09,555.05 197.41,555.92 198.73,556.79 200.04,557.65 201.36,558.51 202.68,559.37 204.00,560.22 205.32,561.08 206.64,561.93 207.95,562.77 209.27,563.61 210.59,564.45 211.91,565.29 213.23,566.12 214.55,566.96 215.86,567.78 217.18,568.61 218.50,569.43 219.82,570.25 221.14,571.06 222.46,571.88 223.77,572.69 225.09,573.49 226.41,574.30 227.73,575.10 229.05,575.90 230.36,576.69 231.68,577.48 233.00,578.27 234.32,579.06 235.64,579.84 236.96,580.62 238.27,581.40 239.59,582.18 240.91,582.95 242.23,583.72 243.55,584.49 244.87,585.25 246.18,586.01 247.50,586.77 248.82,587.53 250.14,588.28 251.46,589.03 252.78,589.78 254.09,590.52 255.41,591.26 256.73,592.00 258.05,592.74 259.37,593.47 260.69,594.21 262.00,594.93 263.32,595.66 264.64,596.38 265.96,597.10 267.28,597.82 268.60,598.54 269.91,599.25 271.23,599.96 272.55,600.67 273.87,601.38 275.19,602.08 276.51,602.78 277.82,603.48 279.14,604.17 280.46,604.86 281.78,605.55 283.10,606.24 284.42,606.93 285.73,607.61 287.05,608.29 288.37,608.97 289.69,609.64 291.01,610.31 292.32,610.98 293.64,611.65 294.96,612.32 296.28,612.98 297.60,613.64 298.92,614.30 300.23,614.96 301.55,615.61 302.87,616.26 304.19,616.91 305.51,617.56 306.83,618.20 308.14,618.84 309.46,619.48 310.78,620.12 312.10,620.75 313.42,621.38 314.74,622.01 316.05,622.64 317.37,623.27 318.69,623.89 320.01,624.51 321.33,625.13 322.65,625.75 323.96,626.36 325.28,626.97 326.60,627.58 327.92,628.19 329.24,628.80 330.56,629.40 331.87,630.00 333.19,630.60 334.51,631.20 335.83,631.79 337.15,632.38 338.47,632.97 339.78,633.56 341.10,634.15 342.42,634.73 343.74,635.31 345.06,635.89 346.37,636.47 347.69,637.05 349.01,637.62 350.33,638.19 351.65,638.76 352.97,639.33 354.28,639.89 355.60,640.46 356.92,641.02 358.24,641.57 359.56,642.13 360.88,642.69 362.19,643.24 363.51,643.79 364.83,644.34 366.15,644.89 367.47,645.43 368.79,645.97 370.10,646.51 371.42,647.05 372.74,647.59 374.06,648.13 375.38,648.66 376.70,649.19 378.01,649.72 379.33,650.25 380.65,650.77 381.97,651.30 383.29,651.82 384.61,652.34 385.92,652.85 387.24,653.37 388.56,653.88 389.88,654.40 391.20,654.91 392.52,655.42 393.83,655.92 395.15,656.43 396.47,656.93 397.79,657.43 399.11,657.93 400.43,658.43 401.74,658.92 403.06,659.42 404.38,659.91 405.70,660.40 407.02,660.89 408.33,661.38 409.65,661.86 410.97,662.34 412.29,662.82 413.61,663.30 414.93,663.78 416.24,664.26 417.56,664.73 418.88,665.21 420.20,665.68 421.52,666.15 422.84,666.61 424.15,667.08 425.47,667.54 426.79,668.01 428.11,668.47 429.43,668.93 430.75,669.39 432.06,669.84 433.38,670.30 434.70,670.75 436.02,671.20 437.34,671.65 438.66,672.10 439.97,672.54 441.29,672.99 442.61,673.43 443.93,673.87 445.25,674.31 446.57,674.75 447.88,675.19 449.20,675.62 450.52,676.05 451.84,676.49 453.16,676.92 454.48,677.34 455.79,677.77 457.11,678.20 458.43,678.62 459.75,679.04 461.07,679.46 462.38,679.88 463.70,680.30 465.02,680.72 466.34,681.13 467.66,681.55 468.98,681.96 470.29,682.37 471.61,682.78 472.93,683.18 474.25,683.59 475.57,683.99 476.89,684.40 478.20,684.80 479.52,685.20 480.84,685.60 482.16,685.99 483.48,686.39 484.80,686.78 486.11,687.18 487.43,687.57 488.75,687.96 490.07,688.35 491.39,688.73 492.71,689.12 494.02,689.50 495.34,689.89 496.66,690.27 497.98,690.65 499.30,691.03 500.62,691.41 501.93,691.78 503.25,692.16 504.57,692.53 505.89,692.90 507.21,693.27 508.53,693.64 509.84,694.01 511.16,694.38 512.48,694.74 513.80,695.10 515.12,695.47 516.44,695.83 517.75,696.19 519.07,696.55 520.39,696.90 521.71,697.26 523.03,697.62 524.34,697.97 525.66,698.32 526.98,698.67 528.30,699.02 529.62,699.37 530.94,699.72 532.25,700.06 533.57,700.41 534.89,700.75 536.21,701.09 537.53,701.43 538.85,701.77 540.16,702.11 541.48,702.45 542.80,702.79 544.12,703.12 545.44,703.45 546.76,703.79 548.07,704.12 549.39,704.45 550.71,704.78 552.03,705.10 553.35,705.43 554.67,705.75 555.98,706.08 557.30,706.40 558.62,706.72 559.94,707.04 561.26,707.36 562.58,707.68 563.89,708.00 565.21,708.31 566.53,708.63 567.85,708.94 569.17,709.25 570.49,709.57 571.80,709.88 573.12,710.18 574.44,710.49 575.76,710.80 577.08,711.11 578.39,711.41 579.71,711.71 581.03,712.02 582.35,712.32 583.67,712.62 584.99,712.92 586.30,713.21 587.62,713.51 588.94,713.81 590.26,714.10 591.58,714.40 592.90,714.69 594.21,714.98 595.53,715.27 596.85,715.56 598.17,715.85 599.49,716.13 600.81,716.42 602.12,716.71 603.44,716.99 604.76,717.27 606.08,717.56 607.40,717.84 608.72,718.12 610.03,718.40 611.35,718.67 612.67,718.95 613.99,719.23 615.31,719.50 616.63,719.78 617.94,720.05 619.26,720.32 620.58,720.59 621.90,720.86 623.22,721.13 624.54,721.40 625.85,721.67 627.17,721.93 628.49,722.20 629.81,722.46 631.13,722.73 632.45,722.99 633.76,723.25 635.08,723.51 636.40,723.77" fill="none" stroke="#2a2a2a" stroke-width="1.2" stroke-dasharray="3.16 3.17"/>
<path d="M89.8,530.5V732.8H653.6" fill="none" stroke="#333" stroke-width="1.3"/>
<path d="M84.50,541.30H89.8" stroke="#333" stroke-width="1.2"/>
<text x="83.00" y="545.55" text-anchor="end" font-size="12.5">1.0</text>
<path d="M84.50,583.80H89.8" stroke="#333" stroke-width="1.2"/>
<text x="83.00" y="588.05" text-anchor="end" font-size="12.5">0.8</text>
<path d="M84.50,626.30H89.8" stroke="#333" stroke-width="1.2"/>
<text x="83.00" y="630.55" text-anchor="end" font-size="12.5">0.6</text>
<path d="M84.50,668.80H89.8" stroke="#333" stroke-width="1.2"/>
<text x="83.00" y="673.05" text-anchor="end" font-size="12.5">0.4</text>
<path d="M84.50,711.30H89.8" stroke="#333" stroke-width="1.2"/>
<text x="83.00" y="715.55" text-anchor="end" font-size="12.5">0.2</text>
<path d="M110.40,732.8V738.10" stroke="#333" stroke-width="1.2"/>
<text x="106.92" y="750.80" font-size="12.5">0</text>
<path d="M198.07,732.8V738.10" stroke="#333" stroke-width="1.2"/>
<text x="193.90" y="750.80" font-size="12.5">22</text>
<path d="M285.74,732.8V738.10" stroke="#333" stroke-width="1.2"/>
<text x="281.57" y="750.80" font-size="12.5">87</text>
<path d="M373.41,732.8V738.10" stroke="#333" stroke-width="1.2"/>
<text x="367.15" y="750.80" font-size="12.5">190</text>
<path d="M461.08,732.8V738.10" stroke="#333" stroke-width="1.2"/>
<text x="454.82" y="750.80" font-size="12.5">340</text>
<path d="M548.75,732.8V738.10" stroke="#333" stroke-width="1.2"/>
<text x="542.49" y="750.80" font-size="12.5">530</text>
<path d="M636.42,732.8V738.10" stroke="#333" stroke-width="1.2"/>
<text x="630.16" y="750.80" font-size="12.5">770</text>
<text x="105.40" y="525.60" font-size="14.75">c) Tebuthiuron</text>
<text transform="translate(53.90,549.90) rotate(-90)" text-anchor="end" font-size="14.85">SGR relative to control</text>
<text x="283.4" y="772.3" font-size="14.62">Herbicide concentration (µg L<tspan font-size="8.8" dy="-5.3">-1</tspan><tspan dy="5.3">)</tspan></text>
</svg></body></html>
